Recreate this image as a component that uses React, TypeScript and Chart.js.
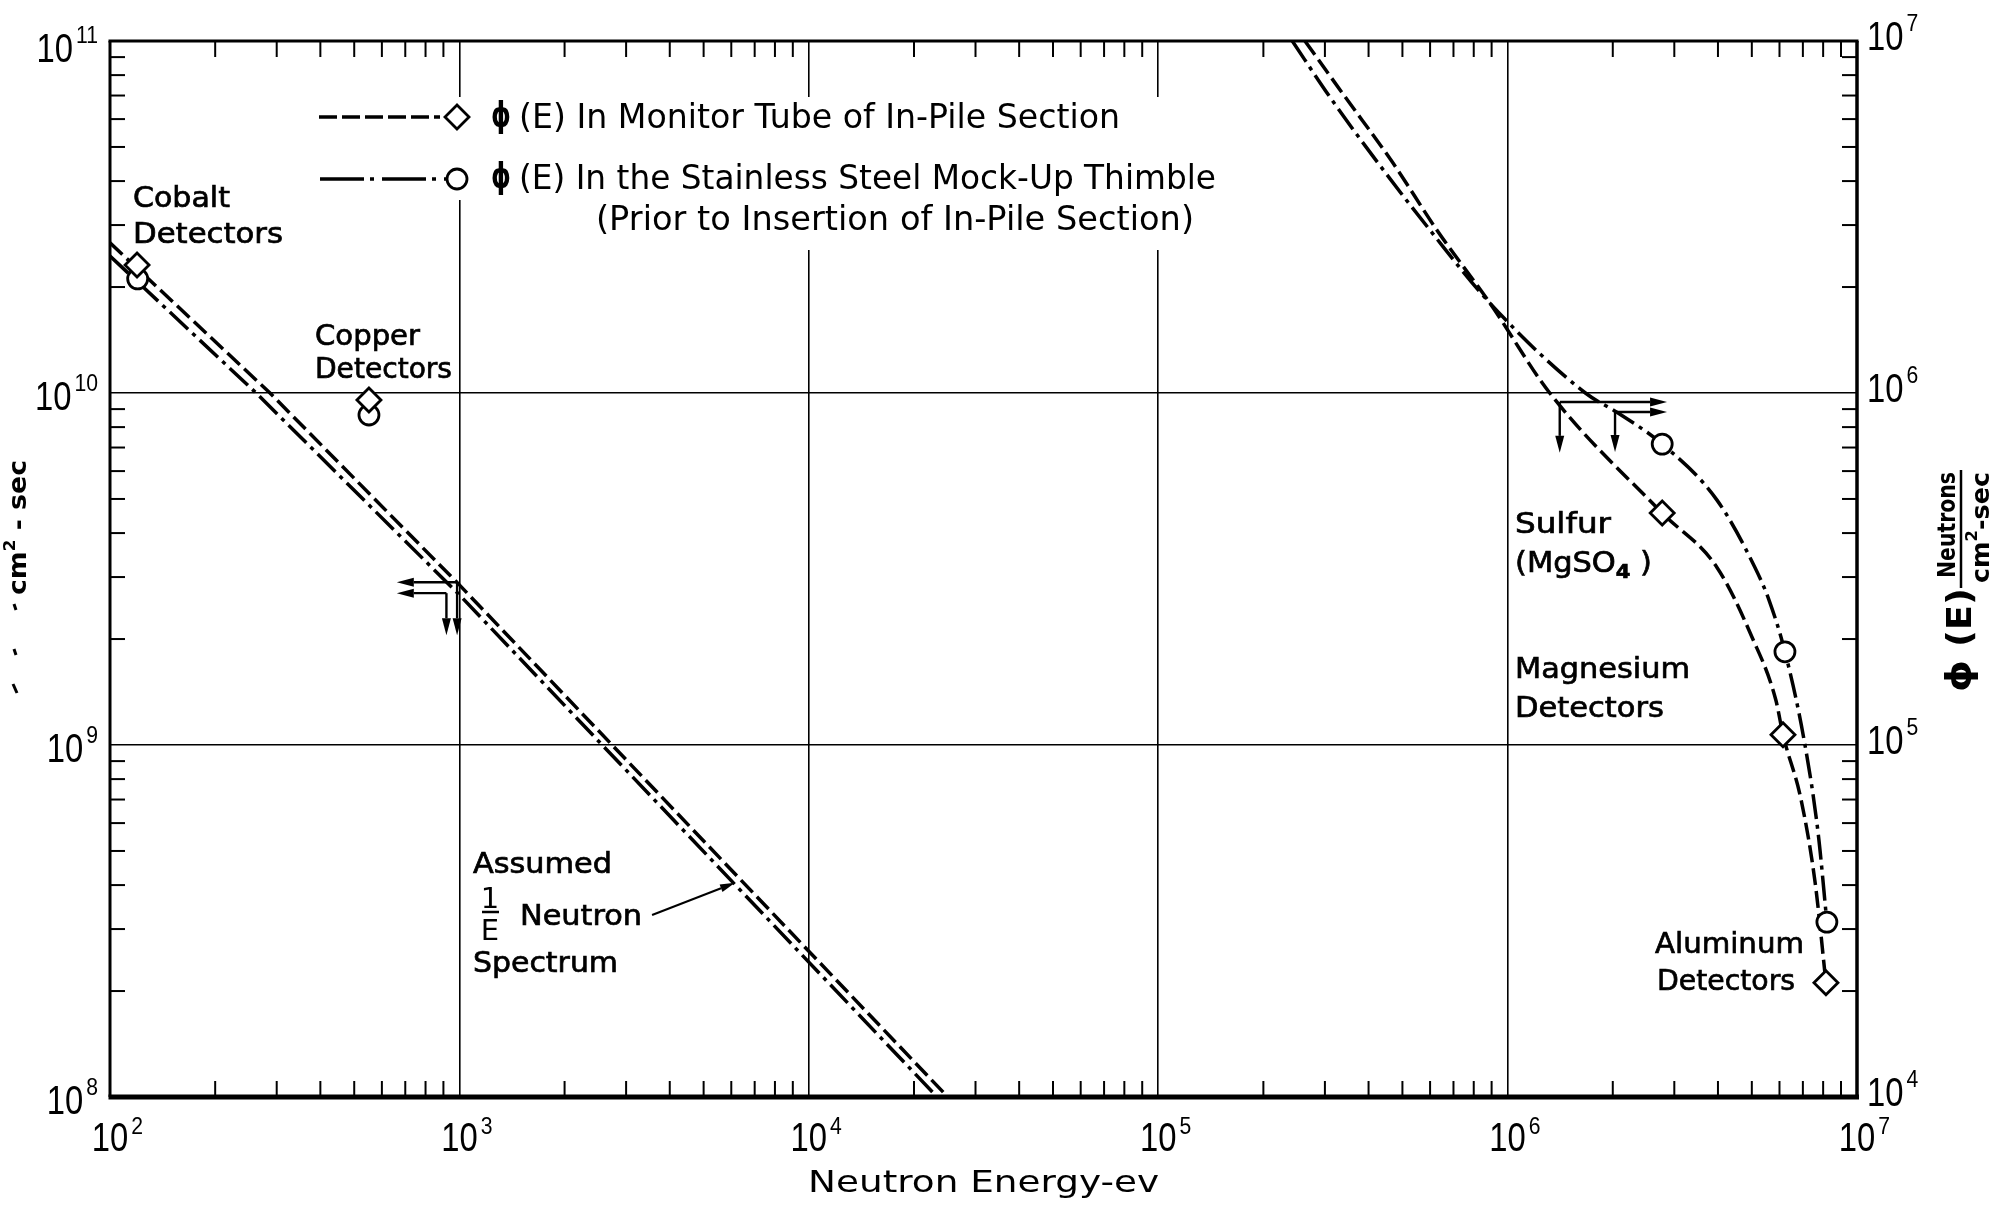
import React, { useEffect, useRef } from "react";
import { Chart, registerables } from "chart.js";

Chart.register(...registerables);

const W = 2001;
const H = 1209;

// ---------- tick labels ----------
const energyTicks = [1e2, 1e3, 1e4, 1e5, 1e6, 1e7];
const energyTickExps = ["2", "3", "4", "5", "6", "7"];
const leftFluxTicks = [1e8, 1e9, 1e10, 1e11];
const leftFluxTickExps = ["8", "9", "10", "11"];
const rightFluxTicks = [1e4, 1e5, 1e6, 1e7];
const rightFluxTickExps = ["4", "5", "6", "7"];

// ---------- texts ----------
const legendPhi = "ϕ";
const legendLabels = [
  "(E) In Monitor Tube of In-Pile Section",
  "(E) In the Stainless Steel Mock-Up Thimble",
  "(Prior to Insertion of In-Pile Section)",
];
const xAxisTitle = "Neutron Energy-ev";

// ---------- series: 1/E region (left axis, n/cm2-sec) ----------
const monitorEpiE = [100, 287, 1000, 25000];
const monitorEpiPhi = [2.67e10, 1e10, 2.85e9, 1e8];
const mockupEpiE = [100, 262, 1000, 23300];
const mockupEpiPhi = [2.45e10, 1e10, 2.67e9, 1e8];

// ---------- series: fast region (right axis) ----------
const monitorFastE = [2.63e5, 3.43e5, 4.7e5, 6.28e5, 8.9e5, 1.32e6, 2.77e6, 3.97e6, 5.0e6, 5.86e6, 6.14e6, 6.92e6, 7.59e6, 8.15e6];
const monitorFastPhi = [1e7, 6.93e6, 4.5e6, 2.9e6, 1.8e6, 1e6, 4.56e5, 3.2e5, 2.03e5, 1.34e5, 1.07e5, 6.98e4, 4.06e4, 2.11e4];
const mockupFastE = [2.42e5, 3.1e5, 4.26e5, 6.0e5, 8.9e5, 1.67e6, 2.06e6, 2.77e6, 3.97e6, 5.1e6, 5.6e6, 6.22e6, 7.06e6, 7.74e6, 8.2e6];
const mockupFastPhi = [1e7, 6.93e6, 4.5e6, 2.9e6, 1.8e6, 1e6, 8.8e5, 7.16e5, 4.97e5, 3.2e5, 2.58e5, 1.84e5, 1.03e5, 5.62e4, 3.14e4];

// ---------- detector points ----------
const monitorEpiDetE = [119.5, 551];
const monitorEpiDetPhi = [2.31e10, 9.55e9];
const mockupEpiDetE = [120, 551];
const mockupEpiDetPhi = [2.11e10, 8.66e9];
const monitorFastDetE = [2.77e6, 6.14e6, 8.15e6];
const monitorFastDetPhi = [4.56e5, 1.07e5, 2.11e4];
const mockupFastDetE = [2.77e6, 6.22e6, 8.2e6];
const mockupFastDetPhi = [7.16e5, 1.84e5, 3.14e4];

// ---------- arrows [E1, phi1, E2, phi2] ----------
const epiThresholdArrows = [
  [985, 2.9e9, 662, 2.9e9],
  [918, 2.7e9, 662, 2.7e9],
  [918, 2.7e9, 918, 2.05e9],
  [985, 2.9e9, 985, 2.05e9],
];
const fastThresholdArrows = [
  [1.41e6, 9.43e5, 2.86e6, 9.43e5],
  [2.03e6, 8.83e5, 2.86e6, 8.83e5],
  [1.41e6, 9.43e5, 1.41e6, 6.76e5],
  [2.03e6, 8.83e5, 2.03e6, 6.8e5],
];
const spectrumPointer = [3.56e3, 3.29e8, 6.15e3, 4.06e8];

const pts = (xs: number[], ys: number[]) => xs.map((x, i) => ({ x, y: ys[i] }));

const DASH = [17, 6];
const DASHDOT = [25, 6, 4, 6];
const NOTE_FONT = '29px "DejaVu Sans", sans-serif';
const TICK_FONT = '41px "Liberation Sans", Arial, sans-serif';
const EXP_FONT = '23px "Liberation Sans", Arial, sans-serif';
const TSX = 0.8;
const ESX = 0.92;

function fit(ctx: CanvasRenderingContext2D, text: string, x: number, y: number, width: number, font: string, stroke = 0) {
  ctx.save();
  ctx.font = font;
  const w = ctx.measureText(text).width;
  ctx.translate(x, y);
  ctx.scale(width / w, 1);
  ctx.fillText(text, 0, 0);
  if (stroke) {
    ctx.lineWidth = stroke;
    ctx.strokeText(text, 0, 0);
  }
  ctx.restore();
}

type Seg = { t: string; font: string; dy?: number };
function rich(ctx: CanvasRenderingContext2D, segs: Seg[], x: number, y: number, width: number, rotate = false, stroke = 0) {
  ctx.save();
  const ws = segs.map((s) => {
    ctx.font = s.font;
    return ctx.measureText(s.t).width;
  });
  const total = ws.reduce((a, b) => a + b, 0);
  ctx.translate(x, y);
  if (rotate) ctx.rotate(-Math.PI / 2);
  ctx.scale(width / total, 1);
  let cx = 0;
  segs.forEach((s, i) => {
    ctx.font = s.font;
    ctx.fillText(s.t, cx, s.dy || 0);
    if (stroke) {
      ctx.lineWidth = stroke;
      ctx.strokeText(s.t, cx, s.dy || 0);
    }
    cx += ws[i];
  });
  ctx.restore();
}

function powWidths(ctx: CanvasRenderingContext2D, exp: string) {
  ctx.font = TICK_FONT;
  const a = ctx.measureText("10").width * TSX;
  ctx.font = EXP_FONT;
  const b = ctx.measureText(exp).width * ESX;
  return { a, b, total: a + 3 + b };
}

function drawPow(ctx: CanvasRenderingContext2D, exp: string, left: number, baseline: number, expRise = 18) {
  const { a } = powWidths(ctx, exp);
  ctx.save();
  ctx.font = TICK_FONT;
  ctx.translate(left, baseline);
  ctx.scale(TSX, 1);
  ctx.fillText("10", 0, 0);
  ctx.restore();
  ctx.save();
  ctx.font = EXP_FONT;
  ctx.translate(left + a + 3, baseline - expRise);
  ctx.scale(ESX, 1);
  ctx.fillText(exp, 0, 0);
  ctx.restore();
}

function line(ctx: CanvasRenderingContext2D, x1: number, y1: number, x2: number, y2: number) {
  ctx.beginPath();
  ctx.moveTo(x1, y1);
  ctx.lineTo(x2, y2);
  ctx.stroke();
}

function arrow(ctx: CanvasRenderingContext2D, x1: number, y1: number, x2: number, y2: number, len = 17, half = 4.5) {
  const ang = Math.atan2(y2 - y1, x2 - x1);
  const bx = x2 - Math.cos(ang) * len;
  const by = y2 - Math.sin(ang) * len;
  line(ctx, x1, y1, bx, by);
  ctx.beginPath();
  ctx.moveTo(x2, y2);
  ctx.lineTo(bx + Math.sin(ang) * half, by - Math.cos(ang) * half);
  ctx.lineTo(bx - Math.sin(ang) * half, by + Math.cos(ang) * half);
  ctx.closePath();
  ctx.fill();
}

function diamond(ctx: CanvasRenderingContext2D, x: number, y: number, r: number) {
  ctx.beginPath();
  ctx.moveTo(x - r, y);
  ctx.lineTo(x, y - r);
  ctx.lineTo(x + r, y);
  ctx.lineTo(x, y + r);
  ctx.closePath();
  ctx.fillStyle = "#fff";
  ctx.fill();
  ctx.stroke();
  ctx.fillStyle = "#000";
}

function circle(ctx: CanvasRenderingContext2D, x: number, y: number, r: number) {
  ctx.beginPath();
  ctx.arc(x, y, r, 0, Math.PI * 2);
  ctx.fillStyle = "#fff";
  ctx.fill();
  ctx.stroke();
  ctx.fillStyle = "#000";
}

const decorPlugin = {
  id: "decor",
  beforeDatasetsDraw(chart: any) {
    const ctx: CanvasRenderingContext2D = chart.ctx;
    ctx.save();
    ctx.fillStyle = "#fff";
    ctx.fillRect(480, 97, 745, 153);
    ctx.fillRect(445, 97, 25, 103);
    ctx.restore();
  },
  afterDatasetsDraw(chart: any) {
    const ctx: CanvasRenderingContext2D = chart.ctx;
    const a = chart.chartArea;
    const sx = chart.scales.x;
    const sy = chart.scales.y;
    const sy2 = chart.scales.y2;
    ctx.save();
    ctx.fillStyle = "#000";
    ctx.strokeStyle = "#000";
    ctx.textAlign = "left";
    ctx.textBaseline = "alphabetic";
    ctx.setLineDash([]);

    // threshold arrows
    ctx.lineWidth = 2.4;
    epiThresholdArrows.forEach(([e1, p1, e2, p2]) =>
      arrow(ctx, sx.getPixelForValue(e1), sy.getPixelForValue(p1), sx.getPixelForValue(e2), sy.getPixelForValue(p2))
    );
    fastThresholdArrows.forEach(([e1, p1, e2, p2]) =>
      arrow(ctx, sx.getPixelForValue(e1), sy2.getPixelForValue(p1), sx.getPixelForValue(e2), sy2.getPixelForValue(p2))
    );
    ctx.lineWidth = 2;
    arrow(
      ctx,
      sx.getPixelForValue(spectrumPointer[0]),
      sy.getPixelForValue(spectrumPointer[1]),
      sx.getPixelForValue(spectrumPointer[2]),
      sy.getPixelForValue(spectrumPointer[3]),
      15,
      4
    );

    // annotations
    const notes: [string, number, number, number][] = [
      ["Cobalt", 133, 207, 97],
      ["Detectors", 133, 243, 150],
      ["Copper", 315, 345, 105],
      ["Detectors", 315, 378, 137],
      ["Assumed", 473, 873, 139],
      ["Neutron", 520, 925, 122],
      ["Spectrum", 473, 972, 145],
      ["Sulfur", 1515, 533, 96],
      ["Magnesium", 1515, 678, 175],
      ["Detectors", 1515, 717, 149],
      ["Aluminum", 1655, 953, 149],
      ["Detectors", 1657, 990, 138],
    ];
    notes.forEach(([t, x, y, w]) => fit(ctx, t, x, y, w, NOTE_FONT, 0.7));
    rich(
      ctx,
      [
        { t: "(MgSO", font: NOTE_FONT },
        { t: "4", font: 'bold 20px "DejaVu Sans", sans-serif', dy: 6 },
        { t: " )", font: NOTE_FONT },
      ],
      1515,
      572,
      137,
      false,
      0.7
    );
    // 1/E fraction
    ctx.save();
    ctx.font = NOTE_FONT;
    ctx.textAlign = "center";
    ctx.fillText("1", 490, 908);
    ctx.fillText("E", 490, 940);
    ctx.restore();
    ctx.lineWidth = 2.5;
    line(ctx, 482, 912, 499, 912);

    // legend
    ctx.lineWidth = 3.5;
    ctx.setLineDash([18, 5]);
    line(ctx, 319, 117, 440, 117);
    ctx.setLineDash([44, 6, 4, 8]);
    line(ctx, 320, 179, 447, 179);
    ctx.setLineDash([]);
    ctx.lineWidth = 2.8;
    diamond(ctx, 457, 117, 12);
    circle(ctx, 457, 179, 10);
    const LF = '33px "DejaVu Sans", sans-serif';
    const PF = 'bold 36px "DejaVu Sans", sans-serif';
    fit(ctx, legendPhi, 491, 127, 20, PF);
    fit(ctx, legendLabels[0], 519, 128, 601, LF);
    fit(ctx, legendPhi, 491, 188, 20, PF);
    fit(ctx, legendLabels[1], 519, 189, 697, LF);
    fit(ctx, legendLabels[2], 596, 230, 598, LF);

    // frame
    ctx.lineWidth = 3;
    line(ctx, a.left - 1.5, a.top, a.right + 1.5, a.top);
    line(ctx, a.left, a.top, a.left, a.bottom);
    ctx.lineWidth = 3.5;
    line(ctx, a.right, a.top, a.right, a.bottom);
    ctx.lineWidth = 5;
    line(ctx, a.left - 1.5, a.bottom, a.right + 2, a.bottom);

    // minor ticks
    ctx.lineWidth = 2;
    for (let i = 0; i < energyTicks.length - 1; i++) {
      for (let m = 2; m < 10; m++) {
        const px = sx.getPixelForValue(m * energyTicks[i]);
        line(ctx, px, a.bottom, px, a.bottom - 16);
        line(ctx, px, a.top, px, a.top + 16);
      }
    }
    for (let i = 0; i < leftFluxTicks.length - 1; i++) {
      for (let m = 2; m < 10; m++) {
        const py = sy.getPixelForValue(m * leftFluxTicks[i]);
        line(ctx, a.left, py, a.left + 15, py);
      }
    }
    for (let i = 0; i < rightFluxTicks.length - 1; i++) {
      for (let m = 2; m < 10; m++) {
        const py = sy2.getPixelForValue(m * rightFluxTicks[i]);
        line(ctx, a.right, py, a.right - 15, py);
      }
    }

    // tick labels (digit height ~29px, centred on the value)
    const half = 14.5;
    energyTicks.forEach((v, i) => {
      const px = sx.getPixelForValue(v);
      const { a: w10 } = powWidths(ctx, energyTickExps[i]);
      drawPow(ctx, energyTickExps[i], px - w10 / 2, 1151, 17);
    });
    leftFluxTicks.forEach((v, i) => {
      const py = sy.getPixelForValue(v) + (i === leftFluxTicks.length - 1 ? 6 : 2);
      const { total } = powWidths(ctx, leftFluxTickExps[i]);
      drawPow(ctx, leftFluxTickExps[i], 98 - total, py + half, 19);
    });
    rightFluxTicks.forEach((v, i) => {
      const py = sy2.getPixelForValue(v) - 6;
      drawPow(ctx, rightFluxTickExps[i], 1867, py + half, 19);
    });

    // axis titles
    fit(ctx, xAxisTitle, 808, 1192, 351, '31px "DejaVu Sans", sans-serif');
    // right title (rotated)
    rich(
      ctx,
      [
        { t: "ϕ", font: 'bold 36px "DejaVu Sans", sans-serif' },
        { t: " (E)", font: 'bold 33px "DejaVu Sans", sans-serif' },
      ],
      1971,
      692,
      104,
      true
    );
    rich(ctx, [{ t: "Neutrons", font: 'bold 25px "DejaVu Sans", sans-serif' }], 1955, 578, 106, true);
    ctx.lineWidth = 2.5;
    line(ctx, 1961, 470, 1961, 588);
    rich(
      ctx,
      [
        { t: "cm", font: 'bold 25px "DejaVu Sans", sans-serif' },
        { t: "2", font: 'bold 16px "DejaVu Sans", sans-serif', dy: -12 },
        { t: "-sec", font: 'bold 25px "DejaVu Sans", sans-serif' },
      ],
      1989,
      583,
      111,
      true
    );
    // left title (partially erased in original)
    rich(
      ctx,
      [
        { t: "cm", font: 'bold 24px "DejaVu Sans", sans-serif' },
        { t: "2", font: 'bold 15px "DejaVu Sans", sans-serif', dy: -11 },
        { t: " - sec", font: 'bold 24px "DejaVu Sans", sans-serif' },
      ],
      26,
      595,
      135,
      true
    );
    ctx.lineWidth = 3;
    line(ctx, 14, 604, 16, 610);
    line(ctx, 14, 649, 16, 655);
    line(ctx, 13, 684, 17, 693);
    ctx.restore();
  },
};

export default function App() {
  const ref = useRef<HTMLCanvasElement>(null);
  useEffect(() => {
    const canvas = ref.current as HTMLCanvasElement;
    const lineDs = (data: any[], dash: number[], axis: string, smooth: boolean) => ({
      type: "line",
      data,
      yAxisID: axis,
      borderColor: "#000",
      borderWidth: 3.5,
      borderDash: dash,
      pointRadius: 0,
      fill: false,
      tension: 0,
      cubicInterpolationMode: smooth ? "monotone" : "default",
      order: 2,
    });
    const markDs = (data: any[], style: string, r: number, axis: string) => ({
      type: "line",
      data,
      yAxisID: axis,
      showLine: false,
      pointStyle: style,
      pointRadius: r,
      pointBackgroundColor: "#fff",
      pointBorderColor: "#000",
      pointBorderWidth: 2.8,
      order: 1,
    });
    const chart = new Chart(canvas, {
      type: "line",
      data: {
        datasets: [
          markDs(pts(monitorEpiDetE, monitorEpiDetPhi), "rectRot", 12, "y"),
          markDs(pts(mockupEpiDetE, mockupEpiDetPhi), "circle", 10, "y"),
          markDs(pts(monitorFastDetE, monitorFastDetPhi), "rectRot", 12, "y2"),
          markDs(pts(mockupFastDetE, mockupFastDetPhi), "circle", 10, "y2"),
          lineDs(pts(monitorEpiE, monitorEpiPhi), DASH, "y", false),
          lineDs(pts(mockupEpiE, mockupEpiPhi), DASHDOT, "y", false),
          lineDs(pts(monitorFastE, monitorFastPhi), DASH, "y2", true),
          lineDs(pts(mockupFastE, mockupFastPhi), DASHDOT, "y2", true),
        ] as any,
      },
      options: {
        responsive: false,
        animation: false,
        devicePixelRatio: 1,
        events: [],
        layout: { padding: { left: 110, top: 41, right: W - 1857, bottom: H - 1097 } },
        plugins: { legend: { display: false }, tooltip: { enabled: false }, title: { display: false } },
        scales: {
          x: {
            type: "logarithmic",
            position: "bottom",
            min: 1e2,
            max: 1e7,
            afterBuildTicks: (s: any) => {
              s.ticks = energyTicks.map((v) => ({ value: v }));
            },
            afterFit: (s: any) => {
              s.height = 0;
            },
            ticks: { display: false },
            grid: { color: "#000", lineWidth: 1.6, drawTicks: false },
            border: { display: false },
          },
          y: {
            type: "logarithmic",
            position: "left",
            min: 1e8,
            max: 1e11,
            afterBuildTicks: (s: any) => {
              s.ticks = leftFluxTicks.map((v) => ({ value: v }));
            },
            afterFit: (s: any) => {
              s.width = 0;
            },
            ticks: { display: false },
            grid: { color: "#000", lineWidth: 1.6, drawTicks: false },
            border: { display: false },
          },
          y2: {
            type: "logarithmic",
            position: "right",
            min: 1e4,
            max: 1e7,
            afterBuildTicks: (s: any) => {
              s.ticks = rightFluxTicks.map((v) => ({ value: v }));
            },
            afterFit: (s: any) => {
              s.width = 0;
            },
            ticks: { display: false },
            grid: { display: false, drawTicks: false },
            border: { display: false },
          },
        },
      } as any,
      plugins: [decorPlugin],
    });
    return () => chart.destroy();
  }, []);
  return (
    <div style={{ position: "absolute", left: 0, top: 0, width: W, height: H, background: "#fff" }}>
      <canvas ref={ref} width={W} height={H} style={{ display: "block", width: W, height: H }} />
    </div>
  );
}
